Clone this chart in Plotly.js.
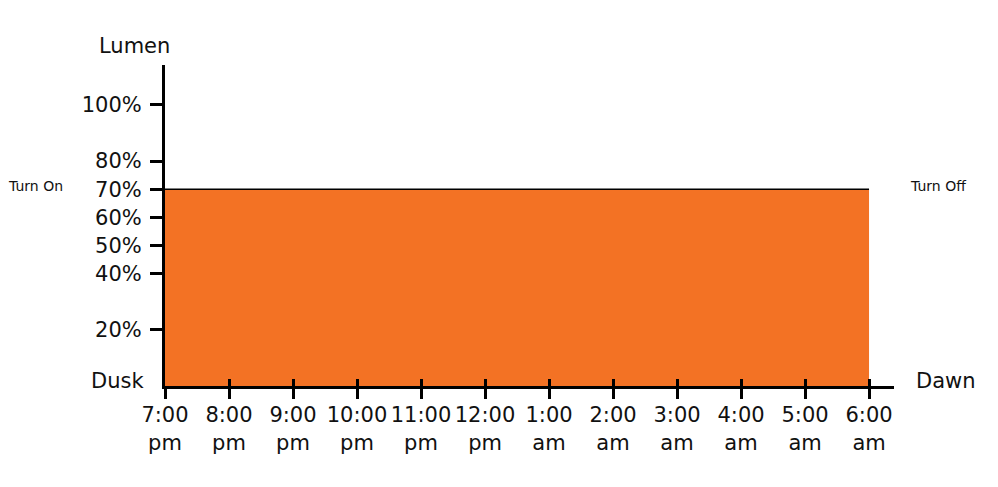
<!DOCTYPE html>
<html>
<head>
<meta charset="utf-8">
<script src="https://cdn.plot.ly/plotly-3.0.1.min.js"></script>
<style>html,body{margin:0;padding:0;background:#fff;}#chart{width:998px;height:487px;}</style>
</head>
<body>
<div id="chart"></div>
<script>
const hours = [0,1,2,3,4,5,6,7,8,9,10,11];
const timeLabels = ["7:00<br>pm","8:00<br>pm","9:00<br>pm","10:00<br>pm","11:00<br>pm","12:00<br>pm","1:00<br>am","2:00<br>am","3:00<br>am","4:00<br>am","5:00<br>am","6:00<br>am"];
const lumen = [70,70,70,70,70,70,70,70,70,70,70,70];
const yTickVals = [20,40,50,60,70,80,100];
const yTickText = ["20%","40%","50%","60%","70%","80%","100%"];

const font = "DejaVu Sans, sans-serif";
const txt = "#111";

const traces = [
  {
    x: hours, y: lumen, type: "scatter", mode: "lines",
    fill: "tozeroy", fillcolor: "#F37224",
    line: {color: "#000", width: 1.5},
    hoverinfo: "skip", showlegend: false
  },
  {
    x: hours, y: lumen, xaxis: "x2", type: "scatter", mode: "none",
    hoverinfo: "skip", showlegend: false, opacity: 0
  }
];

function ann(text, x, y, size, yref) {
  return {text: text, xref: "paper", yref: yref || "paper", x: x, y: y,
          xanchor: "center", yanchor: "middle", showarrow: false,
          font: {size: size, family: font, color: txt}};
}

const layout = {
  width: 998, height: 487,
  margin: {l: 165, r: 104, t: 65, b: 101},
  paper_bgcolor: "#fff", plot_bgcolor: "rgba(0,0,0,0)",
  font: {family: font, color: txt},
  showlegend: false,
  xaxis: {
    range: [0, 11.39], showgrid: false, zeroline: false,
    showline: true, linecolor: "#000", linewidth: 3,
    tickmode: "array", tickvals: hours, ticktext: timeLabels,
    ticks: "outside", ticklen: 10, tickwidth: 3, tickcolor: "#000",
    tickfont: {size: 21, family: font, color: txt},
    ticklabelstandoff: -2
  },
  xaxis2: {
    range: [0, 11.39], overlaying: "x", anchor: "y",
    showgrid: false, zeroline: false, showline: false,
    tickmode: "array", tickvals: hours, showticklabels: false,
    ticks: "inside", ticklen: 7, tickwidth: 3, tickcolor: "#000"
  },
  yaxis: {
    range: [0, 114.2], showgrid: false, zeroline: false,
    showline: true, linecolor: "#000", linewidth: 3,
    tickmode: "array", tickvals: yTickVals, ticktext: yTickText,
    ticks: "outside", ticklen: 12, tickwidth: 3, tickcolor: "#000",
    tickfont: {size: 21, family: font, color: txt},
    ticklabelstandoff: 4
  },
  annotations: [
    ann("Lumen", -0.0425, 1.059, 21),
    ann("Dusk", -0.0645, 0.0156, 21),
    ann("Dawn", 1.071, 0.0156, 21),
    ann("Turn On", -0.177, 71, 14, "y"),
    ann("Turn Off", 1.060, 71, 14, "y")
  ]
};

Plotly.newPlot("chart", traces, layout, {displayModeBar: false, staticPlot: true});
</script>
</body>
</html>
